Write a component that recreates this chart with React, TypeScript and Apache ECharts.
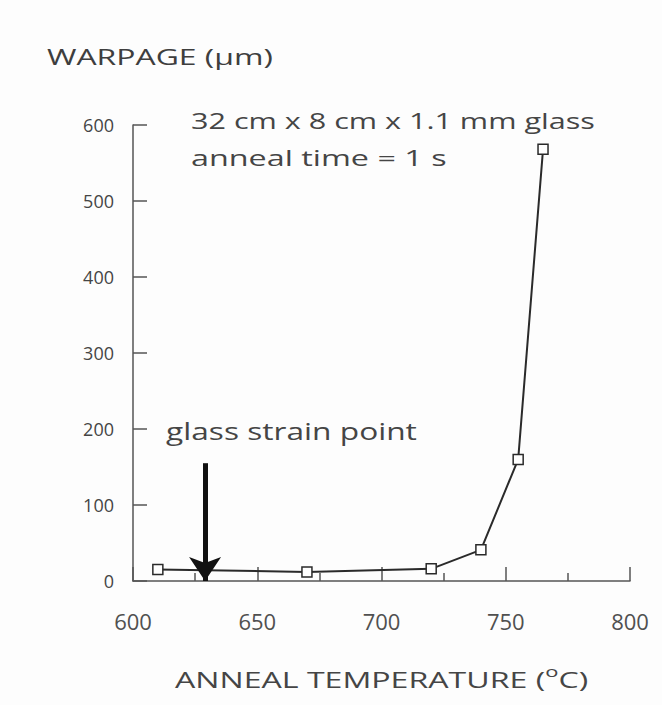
import React, { useEffect, useRef } from "react";
import * as echarts from "echarts";

const annealTemp = [610, 670, 720, 740, 755, 765];
const warpage = [15, 12, 16, 41, 160, 568];
const strainPoint = 629;
const arrowTop = 155;
const yTitle = "WARPAGE (µm)";
const noteLines = ["32 cm x 8 cm x 1.1 mm glass", "anneal time = 1 s"];
const arrowLabel = "glass strain point";

const FONT = "'Open Sans', 'Noto Sans', sans-serif";
const TXT = "#454545";
const AX = "#555";

export default function App() {
  const ref = useRef<HTMLDivElement>(null);
  useEffect(() => {
    if (!ref.current) return;
    const chart = echarts.init(ref.current, undefined, { renderer: "svg" });
    chart.setOption({
      animation: false,
      backgroundColor: "#fdfdfd",
      grid: { left: 133, right: 32, top: 125, bottom: 124 },
      xAxis: {
        type: "value",
        min: 600,
        max: 800,
        interval: 50,
        axisLine: { show: true, lineStyle: { color: AX, width: 1.5 } },
        axisTick: { show: true, inside: true, length: 14, lineStyle: { color: AX, width: 1.5 } },
        minorTick: { show: true, splitNumber: 2, length: 8, lineStyle: { color: AX, width: 1.5 } },
        splitLine: { show: false },
        axisLabel: { margin: 29, fontSize: 22, color: "#505050", fontFamily: FONT },
      },
      yAxis: {
        type: "value",
        min: 0,
        max: 600,
        interval: 100,
        axisLine: { show: true, lineStyle: { color: AX, width: 1.5 } },
        axisTick: { show: true, inside: true, length: 14, lineStyle: { color: AX, width: 1.5 } },
        splitLine: { show: false },
        axisLabel: { margin: 19, fontSize: 18, color: TXT, fontFamily: FONT },
      },
      series: [
        {
          type: "line",
          data: annealTemp.map((t, i) => [t, warpage[i]]),
          symbol: "rect",
          symbolSize: 10,
          lineStyle: { color: "#2a2a2a", width: 2 },
          itemStyle: { color: "#fff", borderColor: "#2a2a2a", borderWidth: 1.5 },
          markLine: {
            silent: true,
            animation: false,
            symbol: ["none", "arrow"],
            symbolSize: [24, 24],
            label: { show: false },
            lineStyle: { color: "#111", width: 5, type: "solid" },
            data: [[{ coord: [strainPoint, arrowTop] }, { coord: [strainPoint, 0] }]],
          },
        },
      ],
      graphic: [
        {
          type: "text",
          x: 47,
          y: 46,
          scaleX: 1.45,
          style: { text: yTitle, fontSize: 22, fill: "#3e3e3e", fontFamily: FONT },
        },
        {
          type: "text",
          x: 191,
          y: 110,
          scaleX: 1.39,
          style: { text: noteLines[0], fontSize: 22, fill: TXT, fontFamily: FONT },
        },
        {
          type: "text",
          x: 191,
          y: 146,
          scaleX: 1.47,
          style: { text: noteLines[1], fontSize: 22, fill: TXT, fontFamily: FONT },
        },
        {
          type: "text",
          x: 166,
          y: 419,
          scaleX: 1.32,
          style: { text: arrowLabel, fontSize: 24, fill: TXT, fontFamily: FONT },
        },
        {
          type: "text",
          x: 175,
          y: 664,
          scaleX: 1.46,
          style: {
            text: "{n|ANNEAL TEMPERATURE (}{s|o}{n|C)}",
            rich: {
              n: { fontSize: 22, fill: TXT, fontFamily: FONT, verticalAlign: "bottom" },
              s: { fontSize: 15, fill: TXT, fontFamily: FONT, verticalAlign: "top", padding: [0, 0, 12, 0] },
            },
          },
        },
      ],
    });
    return () => chart.dispose();
  }, []);
  return (
    <div
      ref={ref}
      style={{ position: "absolute", left: 0, top: 0, width: 662, height: 705 }}
    />
  );
}
